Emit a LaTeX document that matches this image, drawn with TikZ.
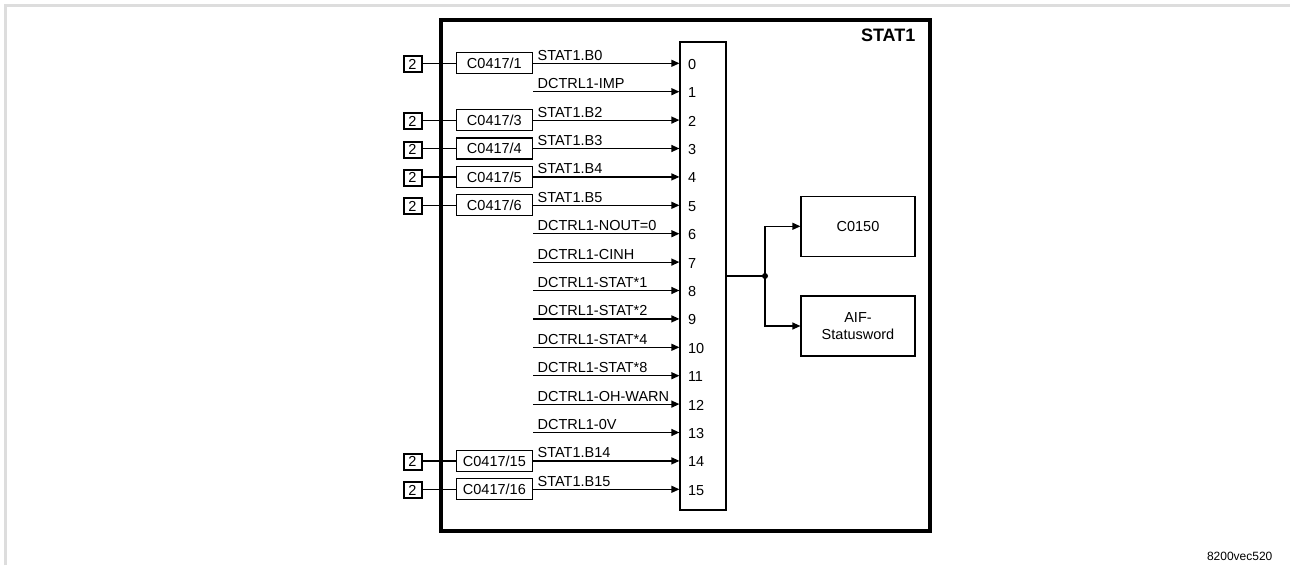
\documentclass[tikz,border=0pt]{standalone}
\usepackage{fontspec}
\setmainfont{Liberation Sans}
\usetikzlibrary{arrows.meta, positioning}

\definecolor{framegray}{HTML}{DDDDDD}

\tikzset{
  sig/.style={font=\fontsize{14.5}{17}\selectfont},
  codebox/.style={draw, line width=1.2pt, minimum width=76pt, minimum height=21pt, inner sep=0pt, sig},
  markbox/.style={draw, line width=2pt, minimum width=18pt, minimum height=16pt, inner sep=0pt, sig},
  targetbox/.style={draw, line width=1.2pt, minimum width=114pt, minimum height=60pt, inner sep=0pt, align=center, sig},
  sigline/.style={line width=1.2pt, -{Triangle[length=8pt,width=7pt]}},
}

\begin{document}
\begin{tikzpicture}[x=1pt, y=-1pt, line width=1.2pt]
  \useasboundingbox (0,0) rectangle (1290,565);
  \def\rowA{63.3}
  \def\rowD{28.4}

  % page frame
  \draw[framegray, line width=2.6pt] (5.5,565) -- (5.5,5.5) -- (1290,5.5);

  % function block
  \draw[line width=3.3pt] (441,20) rectangle (930,531);
  \node[font={\fontsize{18}{20}\selectfont\bfseries}, anchor=base east, inner sep=0pt] (title) at (916,41.7) {STAT1};

  % multiplexer
  \node[draw, minimum width=46pt, minimum height=468pt, inner sep=0pt] (mux) at (703,276) {};

  \foreach \i/\txt in {0/STAT1.B0, 1/DCTRL1-IMP, 2/STAT1.B2, 3/STAT1.B3, 4/STAT1.B4, 5/STAT1.B5,
                       6/DCTRL1-NOUT=0, 7/DCTRL1-CINH, 8/DCTRL1-STAT*1, 9/DCTRL1-STAT*2,
                       10/DCTRL1-STAT*4, 11/DCTRL1-STAT*8, 12/DCTRL1-OH-WARN, 13/DCTRL1-0V,
                       14/STAT1.B14, 15/STAT1.B15} {
    \coordinate (src\i) at (533, {\rowA+\rowD*\i});
    \coordinate (in\i) at (mux.west |- src\i);
    \draw[sigline] (src\i) -- (in\i);
    \node[sig, anchor=base west, inner sep=0pt] (lbl\i) at ([xshift=4pt, yshift=3pt]src\i) {\txt};
    \node[sig, anchor=west, inner sep=0pt] (num\i) at ([xshift=8pt, yshift=-1pt]in\i) {\i};
  }

  % parameter inputs
  \foreach \i/\code in {0/1, 2/3, 3/4, 4/5, 5/6, 14/15, 15/16} {
    \node[codebox, anchor=east] (code\i) at (src\i) {C0417/\code};
    \node[markbox] (mark\i) at (412.5, {\rowA+\rowD*\i+1}) {2};
    \draw (mark\i.east |- src\i) -- (code\i);
  }

  % outputs
  \coordinate (junc) at (765,276);
  \node[targetbox] (par) at (858,226.3) {C0150};
  \node[targetbox] (aif) at (858,326) {AIF-\\Statusword};
  \draw (mux.east) -- (junc);
  \fill (junc) circle[radius=3pt];
  \draw[sigline] (junc) |- (par.west);
  \draw[sigline] (junc) |- (aif.west);

  \node[font={\fontsize{12}{14}\selectfont}, anchor=base east, inner sep=0pt] (figid) at (1273,560) {8200vec520};
\end{tikzpicture}
\end{document}
